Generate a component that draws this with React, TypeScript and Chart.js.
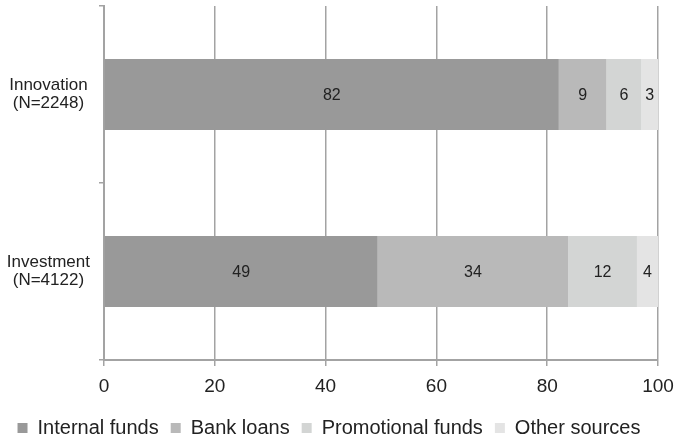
import React, { useEffect, useRef } from 'react';
import { Chart, registerables } from 'chart.js';

Chart.register(...registerables);

const categories = [
  ['Innovation', '(N=2248)'],
  ['Investment', '(N=4122)'],
];
const seriesNames = ['Internal funds', 'Bank loans', 'Promotional funds', 'Other sources'];
const internalFunds = [82.1, 49.4];
const bankLoans = [8.6, 34.4];
const promotionalFunds = [6.3, 12.4];
const otherSources = [3.0, 3.8];
const xTicks = [0, 20, 40, 60, 80, 100];
const seriesColors = ['#999999', '#b9b9b9', '#d3d5d4', '#e4e4e4'];

const FONT = '"Liberation Sans", Arial, Helvetica, sans-serif';
const GRID = '#a3a3a3';

const valueLabels = {
  id: 'valueLabels',
  afterDatasetsDraw(chart: any) {
    const ctx = chart.ctx;
    ctx.save();
    ctx.font = `16px ${FONT}`;
    ctx.fillStyle = '#222222';
    ctx.textAlign = 'center';
    ctx.textBaseline = 'middle';
    chart.data.datasets.forEach((ds: any, i: number) => {
      const meta = chart.getDatasetMeta(i);
      meta.data.forEach((el: any, j: number) => {
        const v = ds.data[j];
        const p = el.getCenterPoint();
        ctx.fillText(String(Math.round(v)), p.x, p.y + 1);
      });
    });
    ctx.restore();
  },
};

export default function App() {
  const ref = useRef<HTMLCanvasElement | null>(null);

  useEffect(() => {
    if (!ref.current) return;
    const seriesData = [internalFunds, bankLoans, promotionalFunds, otherSources];
    const chart = new Chart(ref.current, {
      type: 'bar',
      data: {
        labels: categories,
        datasets: seriesNames.map((name, i) => ({
          label: name,
          data: seriesData[i],
          backgroundColor: seriesColors[i],
          borderWidth: 0,
          categoryPercentage: 1,
          barPercentage: 0.4,
        })),
      },
      options: {
        indexAxis: 'y',
        responsive: false,
        animation: false,
        layout: { padding: { top: 6, right: 18, left: 0, bottom: 0 } },
        scales: {
          x: {
            stacked: true,
            min: 0,
            max: 100,
            afterFit: (scale: any) => {
              scale.height = 46;
              scale.paddingLeft = 0;
              scale.paddingRight = 0;
            },
            afterBuildTicks: (scale: any) => {
              scale.ticks = xTicks.map((v) => ({ value: v }));
            },
            grid: {
              color: GRID,
              lineWidth: 1.5,
              tickLength: 6,
            },
            border: { display: true, color: GRID, width: 2 },
            ticks: {
              padding: 9,
              color: '#222222',
              font: { family: FONT, size: 19 },
              maxRotation: 0,
            },
          },
          y: {
            stacked: true,
            afterFit: (scale: any) => {
              scale.width = 104;
              scale.paddingTop = 0;
              scale.paddingBottom = 0;
            },
            grid: {
              offset: true,
              drawOnChartArea: false,
              color: GRID,
              lineWidth: 1.5,
              tickLength: 5,
            },
            border: { display: true, color: GRID, width: 2 },
            ticks: {
              padding: 9,
              crossAlign: 'center',
              color: '#222222',
              font: { family: FONT, size: 17, lineHeight: 1.05 },
            },
          },
        },
        plugins: {
          legend: {
            position: 'bottom',
            maxHeight: 35,
            labels: {
              boxWidth: 10,
              boxHeight: 10,
              padding: 12,
              color: '#222222',
              font: { family: FONT, size: 20 },
            },
          },
          tooltip: { enabled: false },
        },
      },
      plugins: [valueLabels],
    } as any);
    return () => chart.destroy();
  }, []);

  return (
    <div style={{ position: 'absolute', left: 0, top: 0, width: 676, height: 441, background: '#fff' }}>
      <canvas ref={ref} width={676} height={441} style={{ display: 'block' }} />
    </div>
  );
}
